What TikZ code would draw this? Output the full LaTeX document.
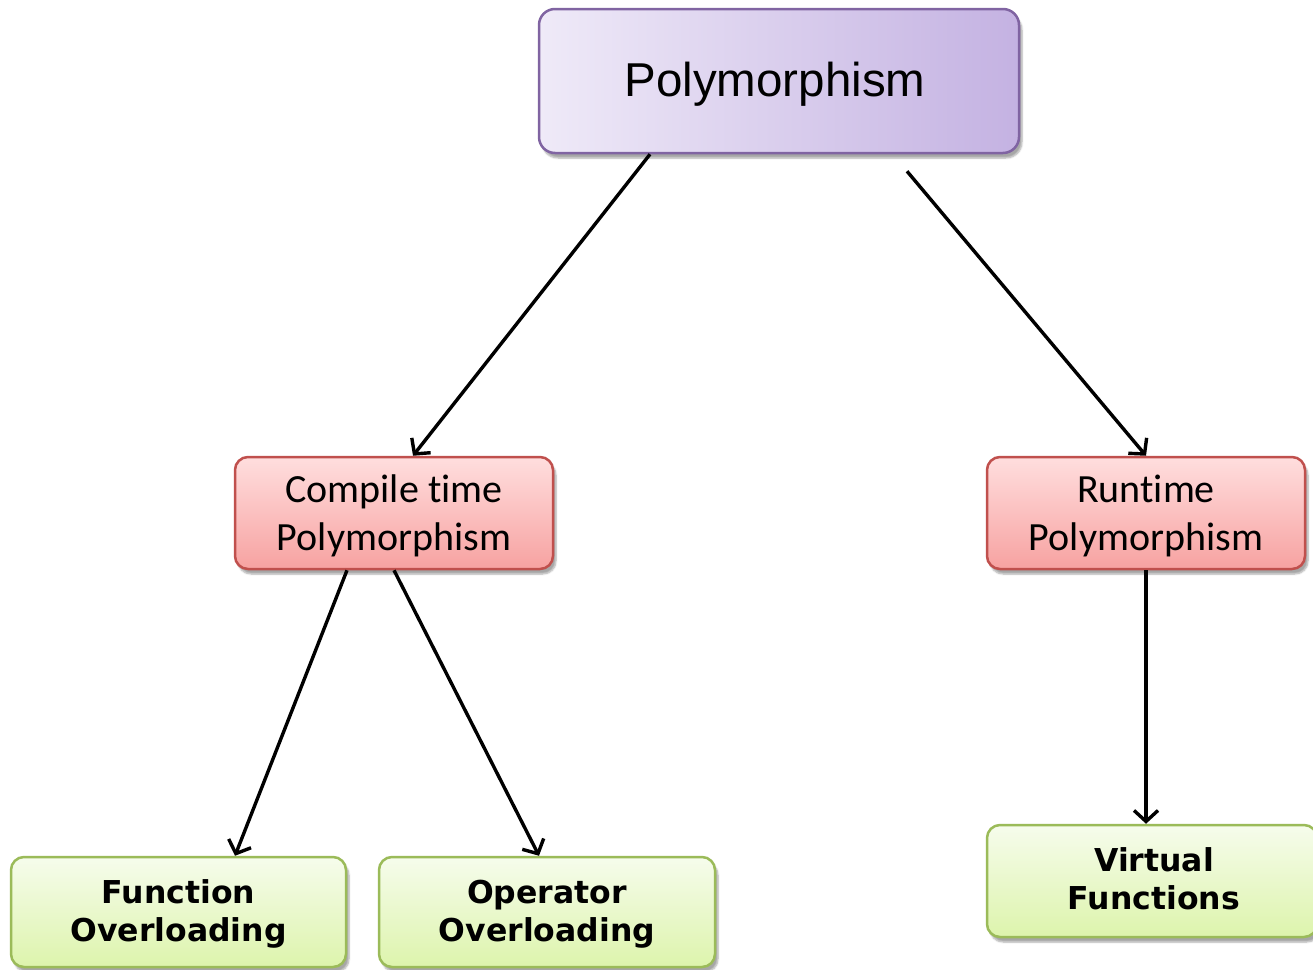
\documentclass[tikz,border=0pt]{standalone}
\usepackage{fontspec}
\newfontfamily\arialf{Liberation Sans}
\newfontfamily\calibf[Ligatures=NoCommon]{Carlito}
\newfontfamily\verdf{DejaVu Sans}
\usetikzlibrary{arrows.meta,shadows.blur}
\definecolor{purpleEdge}{HTML}{8064A2}
\definecolor{purpleL}{HTML}{EFEAF8}
\definecolor{purpleR}{HTML}{C4B2E2}
\definecolor{redEdge}{HTML}{C0504D}
\definecolor{redT}{HTML}{FFDEDE}
\definecolor{redB}{HTML}{F7A2A1}
\definecolor{greenEdge}{HTML}{9BBB59}
\definecolor{greenT}{HTML}{F6FCEC}
\definecolor{greenB}{HTML}{DDF4AC}
% centred lines of text, lowered without changing the box size
\newcommand\boxtext[2]{\raisebox{#1}[\height][\depth]{\begin{tabular}{@{}c@{}}#2\end{tabular}}}
\tikzset{
  box/.style={draw, line width=2.5pt, rounded corners=13pt, inner sep=0pt,
    blur shadow={shadow xshift=3pt, shadow yshift=-5pt, shadow blur steps=6, shadow opacity=35}},
  rootbox/.style={box, draw=purpleEdge, left color=purpleL, right color=purpleR,
    rounded corners=16pt, minimum width=480pt, minimum height=144pt,
    font=\arialf\fontsize{47.5}{56}\selectfont},
  midbox/.style={box, draw=redEdge, top color=redT, bottom color=redB,
    minimum width=318pt, minimum height=112pt,
    font=\calibf\fontsize{40}{48}\selectfont},
  leafbox/.style={box, draw=greenEdge, top color=greenT, bottom color=greenB,
    minimum height=110pt,
    font=\verdf\bfseries\fontsize{31.5}{38.5}\selectfont},
  link/.style={line width=3.4pt, -{Straight Barb[length=11pt,width=24pt,line width=3.4pt]}}
}
\begin{document}
\begin{tikzpicture}[x=1pt,y=-1pt]
  \useasboundingbox (0,0) rectangle (1313,969);
  \node[rootbox] (poly) at (779,81) {\boxtext{-4pt}{\hspace*{-8pt}Polymorphism}};
  \node[midbox] (ct) at (394,513) {\boxtext{-4pt}{Compile time\\Polymorphism}};
  \node[midbox] (rt) at (1146,513) {\boxtext{-4pt}{Runtime\\Polymorphism}};
  \node[leafbox, minimum width=335pt] (fo) at (178.5,912) {\boxtext{-3pt}{Function\\Overloading}};
  \node[leafbox, minimum width=336pt] (oo) at (547,912) {\boxtext{-3pt}{Operator\\Overloading}};
  \node[leafbox, minimum width=330pt, minimum height=112pt] (vf) at (1152,881) {\boxtext{-2pt}{\hspace*{4pt}Virtual\\\hspace*{4pt}Functions}};

  \draw[link] ([xshift=-129pt]poly.south) -- ([xshift=19pt]ct.north);
  \draw[link] ([xshift=128pt,yshift=-17pt]poly.south) -- (rt.north);
  \draw[link] ([xshift=-47pt]ct.south) -- ([xshift=56.5pt]fo.north);
  \draw[link] (ct.south) -- ([xshift=-8pt]oo.north);
  \draw[link] (rt.south) -- ([xshift=-6pt]vf.north);
\end{tikzpicture}
\end{document}
